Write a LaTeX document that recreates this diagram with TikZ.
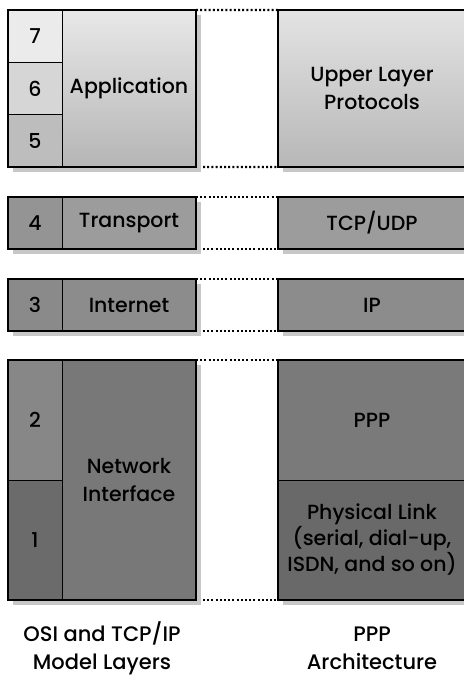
\documentclass[tikz,border=0pt]{standalone}
\usepackage{fontspec}
\setmainfont{Poppins}[UprightFont=* Medium]
\usetikzlibrary{positioning,backgrounds}

\definecolor{c7}{gray}{0.92}
\definecolor{c6}{gray}{0.84}
\definecolor{c5}{gray}{0.74}
\definecolor{c4}{gray}{0.58}
\definecolor{c3}{gray}{0.54}
\definecolor{c2}{gray}{0.53}
\definecolor{c1}{gray}{0.42}
\definecolor{ctrans}{gray}{0.61}
\definecolor{cinet}{gray}{0.55}
\definecolor{cnetif}{gray}{0.47}
\definecolor{cppp}{gray}{0.48}
\definecolor{cphys}{gray}{0.41}
\definecolor{cshadow}{gray}{0.78}

\begin{document}
\begin{tikzpicture}[x=1pt, y=-1pt, line width=0.8pt,
  cell/.style={draw=black, line width=0.8pt, inner sep=0pt, outer sep=0pt,
    anchor=north west, align=center,
    font=\fontsize{20.5}{28}\selectfont},
  numcell/.style={cell, minimum width=54pt},
  namecell/.style={cell, minimum width=134pt},
  pppcell/.style={cell, minimum width=188pt},
  frame/.style={draw=black, line width=2.4pt},
  shadowbox/.style={fill=cshadow, draw=none},
  link/.style={line width=2.4pt, dash pattern=on 2pt off 2.2pt},
  caption/.style={align=center, font=\fontsize{21}{28}\selectfont}]
\useasboundingbox (0,0) rectangle (463,685);

% left column: OSI / TCP-IP layers
\node[numcell, fill=c7, minimum height=52.3pt] (l7) at (8,10) {7};
\node[numcell, fill=c6, minimum height=52.4pt, below=0pt of l7] (l6) {6};
\node[numcell, fill=c5, minimum height=52.3pt, below=0pt of l6] (l5) {5};
\node[namecell, top color=black!9, bottom color=black!29,
  minimum height=157pt, right=0pt of l6] (app) {Application};

\node[numcell, fill=c4, minimum height=52pt] (l4) at (8,197) {4};
\node[namecell, fill=ctrans, minimum height=52pt, right=0pt of l4] (trans) {Transport};

\node[numcell, fill=c3, minimum height=52pt] (l3) at (8,279) {3};
\node[namecell, fill=cinet, minimum height=52pt, right=0pt of l3] (inet) {Internet};

\node[numcell, fill=c2, minimum height=120pt] (l2) at (8,360) {2};
\node[numcell, fill=c1, minimum height=120pt, below=0pt of l2] (l1) {1};
\node[namecell, fill=cnetif, minimum height=240pt] (netif) at (62,360) {Network\\Interface};

% right column: PPP architecture
\node[pppcell, top color=black!11, bottom color=black!28,
  minimum height=157pt] (upl) at (278,10) {Upper Layer\\Protocols};
\node[pppcell, fill=ctrans, minimum height=52pt] (tcp) at (278,197) {TCP/UDP};
\node[pppcell, fill=cinet, minimum height=52pt] (ip) at (278,279) {IP};
\node[pppcell, fill=cppp, minimum height=120pt] (ppp) at (278,360) {PPP};
\node[pppcell, fill=cphys, minimum height=120pt, below=0pt of ppp] (phys)
  {Physical Link\\[-2pt](serial, dial-up,\\[-2pt]ISDN, and so on)};

% heavy outlines round each group
\draw[frame] (l7.north west) rectangle (app.south east);
\draw[frame] (l4.north west) rectangle (trans.south east);
\draw[frame] (l3.north west) rectangle (inet.south east);
\draw[frame] (l2.north west) rectangle (netif.south east);
\draw[frame] (upl.north west) rectangle (upl.south east);
\draw[frame] (tcp.north west) rectangle (tcp.south east);
\draw[frame] (ip.north west) rectangle (ip.south east);
\draw[frame] (ppp.north west) rectangle (phys.south east);

% drop shadows
\begin{scope}[on background layer]
  \foreach \a/\b in {l7/app, l4/trans, l3/inet, l2/netif,
                     upl/upl, tcp/tcp, ip/ip, ppp/phys}
    \fill[shadowbox] ([shift={(5pt,-5pt)}]\a.north west)
      rectangle ([shift={(5pt,-5pt)}]\b.south east);
\end{scope}

% dotted correspondences
\foreach \a/\b in {app/upl, trans/tcp, inet/ip, netif/ppp}
  \draw[link] (\a.north east) -- (\b.north west);
\draw[link] ([xshift=7pt]app.south east) -- (upl.south west);
\draw[link] ([xshift=7pt]trans.south east) -- (tcp.south west);
\draw[link] ([xshift=7pt]inet.south east) -- (ip.south west);
\draw[link] ([xshift=7pt]netif.south east) -- (phys.south west);

% captions
\node[caption] (capl) at (102,648) {OSI and TCP/IP\\Model Layers};
\node[caption] (capr) at (372,648) {PPP\\Architecture};
\end{tikzpicture}
\end{document}
